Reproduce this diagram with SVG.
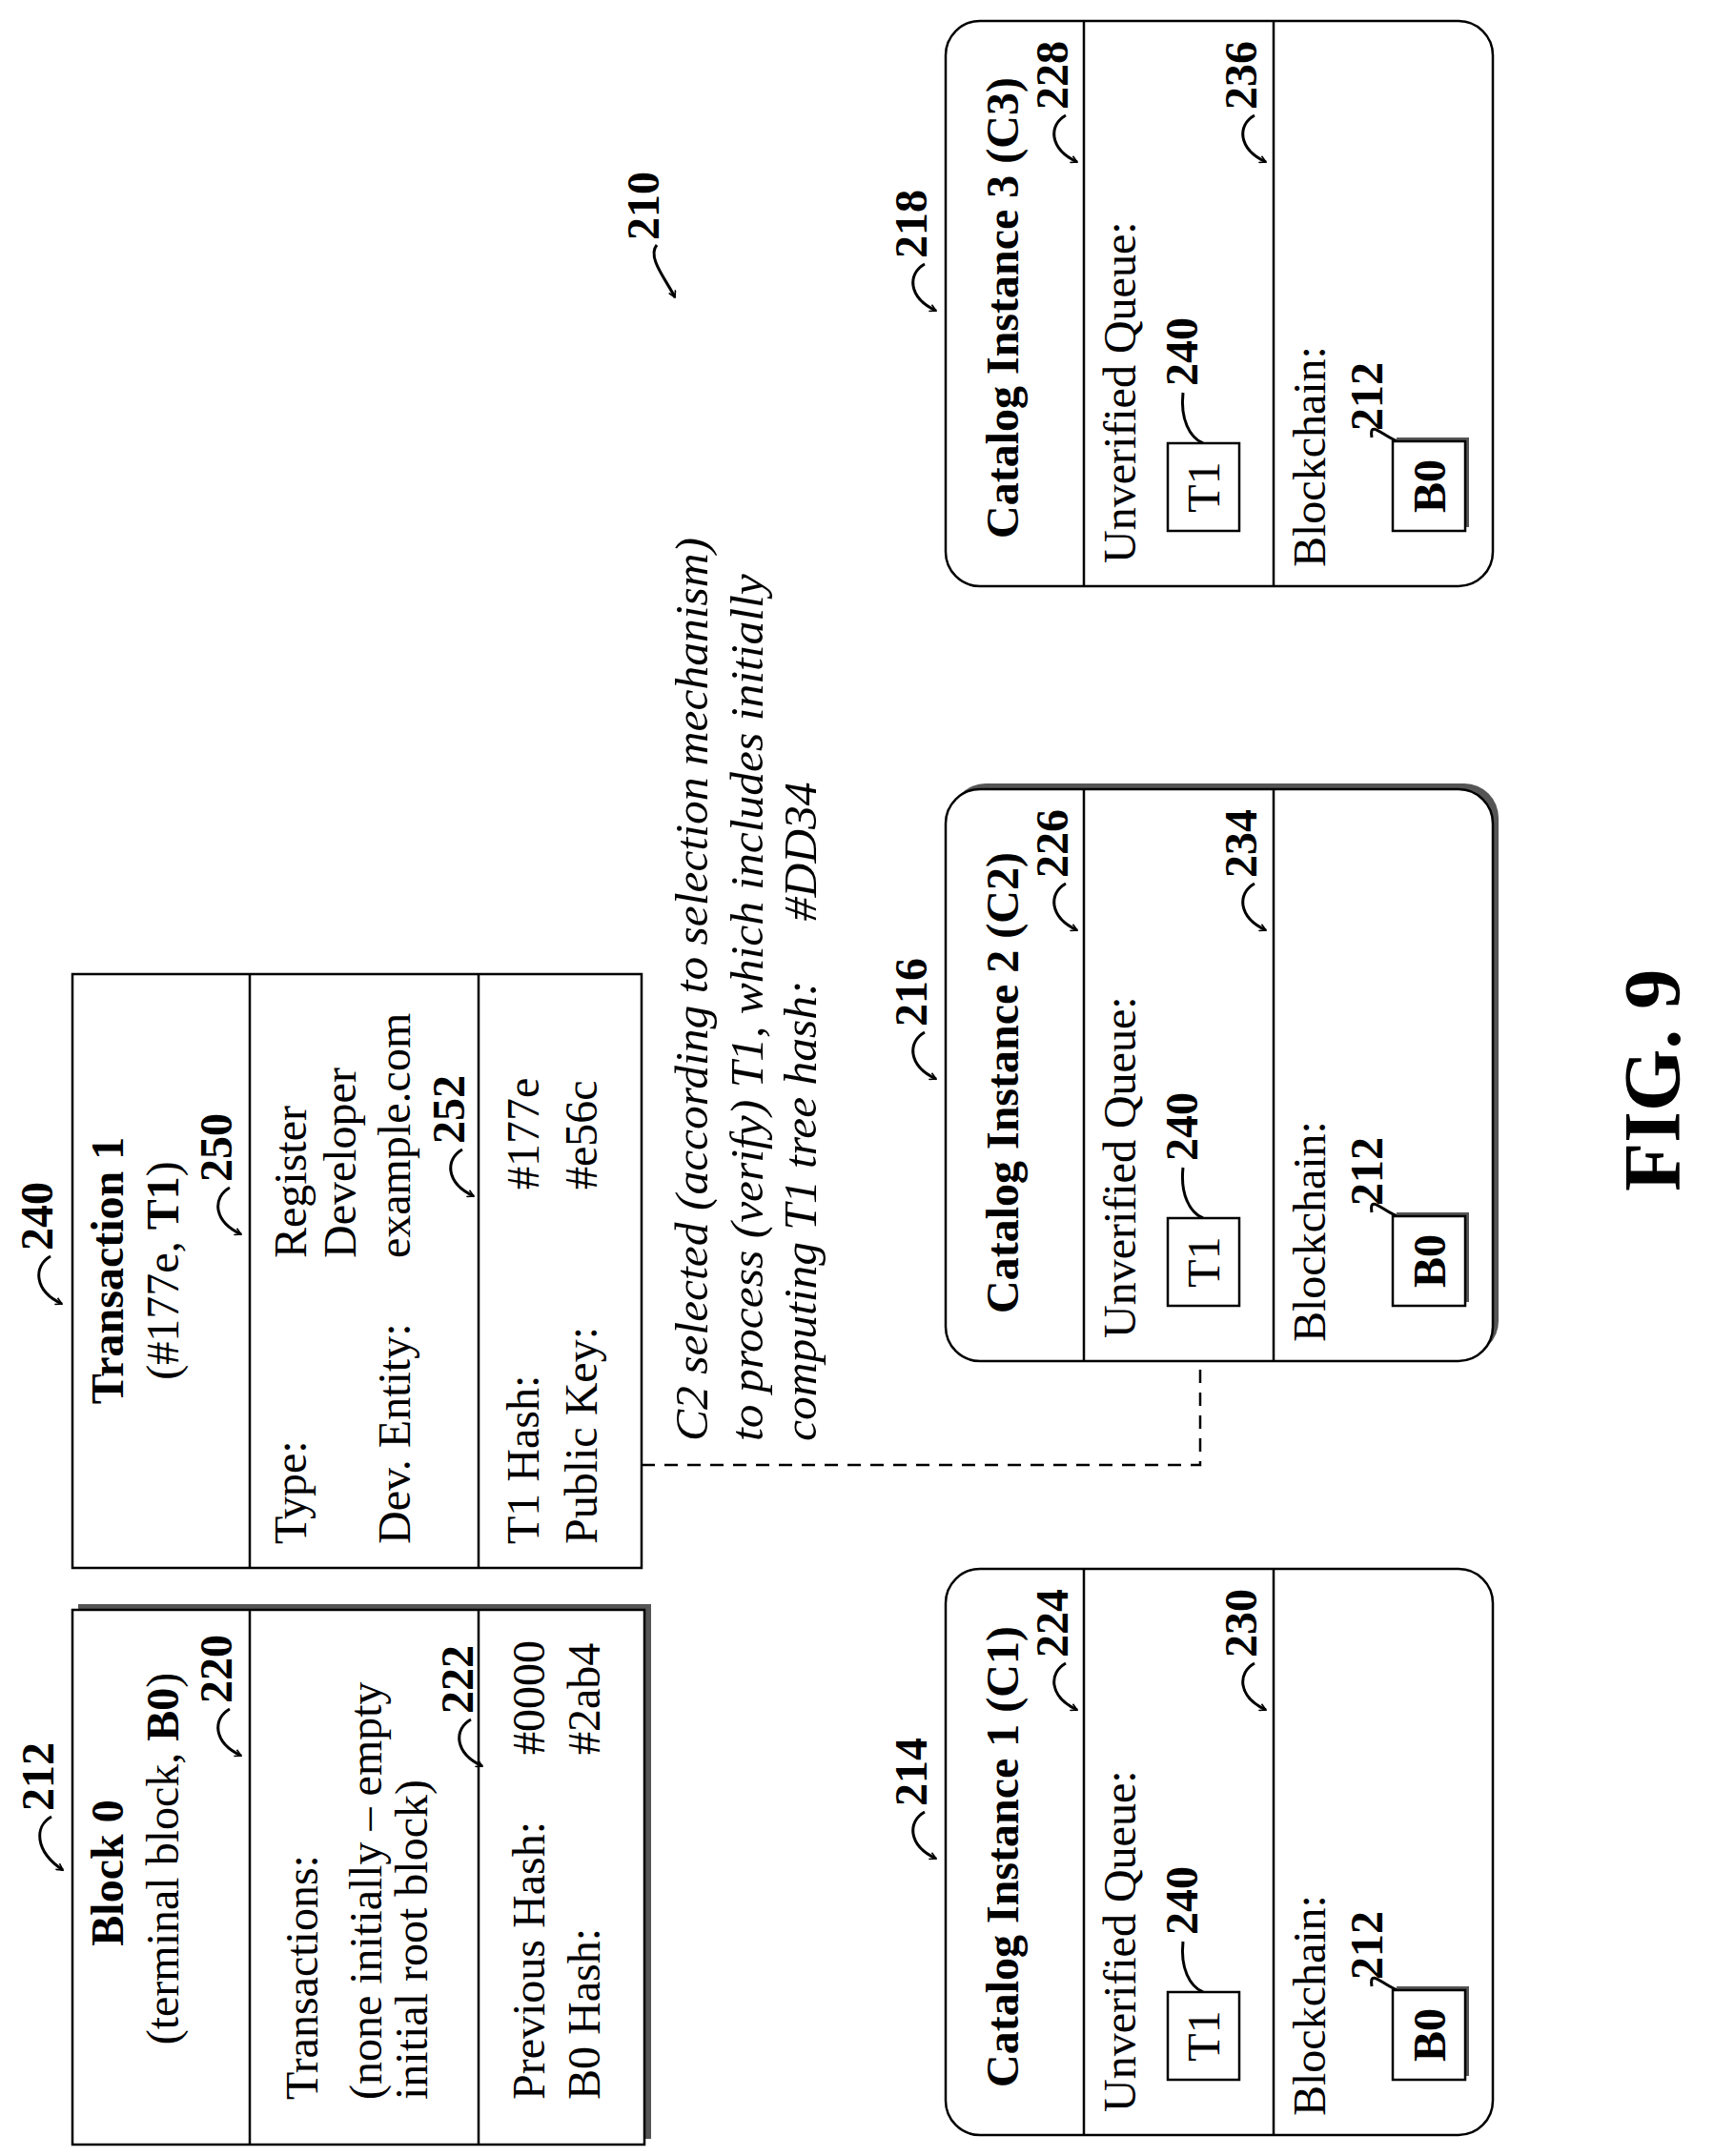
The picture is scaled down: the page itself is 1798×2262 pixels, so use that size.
<svg xmlns="http://www.w3.org/2000/svg" width="1798" height="2262" viewBox="0 0 1798 2262">
<style>
text{font-family:"Liberation Serif","Times New Roman",serif;font-size:48px;fill:#000}
.b{font-weight:bold}
.i{font-style:italic;font-size:49.5px}
.m{text-anchor:middle}
.box{fill:#fff;stroke:#000;stroke-width:2.5}
.sh{fill:#555;stroke:none}
.ln{stroke:#000;stroke-width:2.5;fill:none}
.ld{stroke:#000;stroke-width:3;fill:none}
.la{stroke:#000;stroke-width:3;fill:none;marker-end:url(#ah)}
.dash{stroke:#000;stroke-width:2.5;fill:none;stroke-dasharray:14 10}
</style>
<defs>
<marker id="ah" viewBox="0 0 12 12" refX="10" refY="6" markerWidth="9" markerHeight="9" orient="auto" markerUnits="userSpaceOnUse">
<path d="M1,1 L10,6 L1,11" fill="none" stroke="#000" stroke-width="2.2"/>
</marker>
</defs>
<rect width="1798" height="2262" fill="#fff"/>

<g id="connectors">
<path class="dash" d="M673,1537 H1259 V1372"/>
</g>

<g id="label210">
<text class="b" transform="translate(691,252) rotate(-90)">210</text>
<path class="la" d="M689,257 C678,270 700,295 708,312"/>
</g>

<g id="block0">
<text class="b" transform="translate(56,1900) rotate(-90)">212</text>
<path class="la" d="M54,1906 C36,1916 36,1942 66,1962"/>
<rect class="sh" x="82" y="1683" width="601" height="561"/>
<rect class="box" x="76" y="1689" width="600" height="561"/>
<line class="ln" x1="262" y1="1689" x2="262" y2="2250"/>
<line class="ln" x1="502" y1="1689" x2="502" y2="2250"/>
<text class="b m" transform="translate(129,1965) rotate(-90)">Block 0</text>
<text class="m" transform="translate(187,1950) rotate(-90)">(terminal block, <tspan class="b">B0</tspan>)</text>
<text class="b" transform="translate(243,1787) rotate(-90)">220</text>
<path class="la" d="M241,1793 C223,1803 223,1828 253,1842"/>
<text transform="translate(333,2203) rotate(-90)">Transactions:</text>
<text transform="translate(400,2203) rotate(-90)">(none initially – empty</text>
<text transform="translate(448,2203) rotate(-90)">initial root block)</text>
<text class="b" transform="translate(496,1798) rotate(-90)">222</text>
<path class="la" d="M494,1804 C476,1814 476,1839 506,1853"/>
<text transform="translate(571,2203) rotate(-90)">Previous Hash:</text>
<text transform="translate(629,2203) rotate(-90)">B0 Hash:</text>
<text transform="translate(571,1841) rotate(-90)">#0000</text>
<text transform="translate(629,1841) rotate(-90)">#2ab4</text>
</g>

<g id="transaction1">
<text class="b" transform="translate(55,1312) rotate(-90)">240</text>
<path class="la" d="M53,1318 C35,1328 35,1354 65,1368"/>
<rect class="box" x="76" y="1022" width="597" height="623"/>
<line class="ln" x1="262" y1="1022" x2="262" y2="1645"/>
<line class="ln" x1="502" y1="1022" x2="502" y2="1645"/>
<text class="b m" transform="translate(129,1333) rotate(-90)">Transaction 1</text>
<text class="m" transform="translate(187,1333) rotate(-90)">(#177e, <tspan class="b">T1</tspan>)</text>
<text class="b" transform="translate(243,1240) rotate(-90)">250</text>
<path class="la" d="M241,1246 C223,1256 223,1281 253,1295"/>
<text transform="translate(321,1620) rotate(-90)">Type:</text>
<text transform="translate(321,1320) rotate(-90)">Register</text>
<text transform="translate(373,1320) rotate(-90)">Developer</text>
<text transform="translate(430,1620) rotate(-90)">Dev. Entity:</text>
<text transform="translate(430,1320) rotate(-90)">example.com</text>
<text class="b" transform="translate(487,1200) rotate(-90)">252</text>
<path class="la" d="M485,1206 C467,1216 467,1241 497,1255"/>
<text transform="translate(565,1620) rotate(-90)">T1 Hash:</text>
<text transform="translate(626,1620) rotate(-90)">Public Key:</text>
<text transform="translate(565,1248) rotate(-90)">#177e</text>
<text transform="translate(626,1248) rotate(-90)">#e56c</text>
</g>

<g id="note">
<text class="i" transform="translate(742,1512) rotate(-90)">C2 selected (according to selection mechanism)</text>
<text class="i" transform="translate(800,1512) rotate(-90)">to process (verify) T1, which includes initially</text>
<text class="i" transform="translate(856,1512) rotate(-90)">computing T1 tree hash: <tspan dx="50">#DD34</tspan></text>
</g>

<g id="catalog1">
<text class="b" transform="translate(972,1895) rotate(-90)">214</text>
<path class="la" d="M970,1901 C952,1911 952,1936 982,1950"/>
<rect class="box" x="992" y="1646" width="574" height="594" rx="36"/>
<line class="ln" x1="1137" y1="1646" x2="1137" y2="2240"/>
<line class="ln" x1="1336" y1="1646" x2="1336" y2="2240"/>
<text class="b" transform="translate(1068,2190) rotate(-90)">Catalog Instance 1 (C1)</text>
<text class="b" transform="translate(1120,1739) rotate(-90)">224</text>
<path class="la" d="M1118,1745 C1100,1755 1100,1780 1130,1794"/>
<text transform="translate(1191,2216) rotate(-90)">Unverified Queue:</text>
<text class="b" transform="translate(1256,2030) rotate(-90)">240</text>
<path class="ld" d="M1262,2090 C1248,2084 1238,2065 1241,2037"/>
<rect class="box" x="1225" y="2090" width="75" height="92"/>
<text class="m" transform="translate(1279,2136) rotate(-90)">T1</text>
<text class="b" transform="translate(1318,1739) rotate(-90)">230</text>
<path class="la" d="M1316,1745 C1298,1755 1298,1780 1328,1794"/>
<text transform="translate(1390,2220) rotate(-90)">Blockchain:</text>
<text class="b" transform="translate(1450,2077) rotate(-90)">212</text>
<path class="ld" d="M1466,2088 C1450,2082 1436,2065 1439,2084"/>
<rect class="sh" x="1465" y="2084" width="76" height="94"/>
<rect class="box" x="1461" y="2088" width="76" height="94"/>
<text class="b m" transform="translate(1516,2135) rotate(-90)">B0</text>
</g>

<g id="catalog2">
<text class="b" transform="translate(972,1077) rotate(-90)">216</text>
<path class="la" d="M970,1083 C952,1093 952,1118 982,1132"/>
<rect class="sh" x="998" y="822" width="574" height="600" rx="36"/>
<rect class="box" x="992" y="828" width="574" height="600" rx="36"/>
<line class="ln" x1="1137" y1="828" x2="1137" y2="1428"/>
<line class="ln" x1="1336" y1="828" x2="1336" y2="1428"/>
<text class="b" transform="translate(1068,1378) rotate(-90)">Catalog Instance 2 (C2)</text>
<text class="b" transform="translate(1120,921) rotate(-90)">226</text>
<path class="la" d="M1118,927 C1100,937 1100,962 1130,976"/>
<text transform="translate(1191,1404) rotate(-90)">Unverified Queue:</text>
<text class="b" transform="translate(1256,1218) rotate(-90)">240</text>
<path class="ld" d="M1262,1278 C1248,1272 1238,1253 1241,1225"/>
<rect class="box" x="1225" y="1278" width="75" height="92"/>
<text class="m" transform="translate(1279,1324) rotate(-90)">T1</text>
<text class="b" transform="translate(1318,921) rotate(-90)">234</text>
<path class="la" d="M1316,927 C1298,937 1298,962 1328,976"/>
<text transform="translate(1390,1408) rotate(-90)">Blockchain:</text>
<text class="b" transform="translate(1450,1265) rotate(-90)">212</text>
<path class="ld" d="M1466,1276 C1450,1270 1436,1253 1439,1272"/>
<rect class="sh" x="1465" y="1272" width="76" height="94"/>
<rect class="box" x="1461" y="1276" width="76" height="94"/>
<text class="b m" transform="translate(1516,1323) rotate(-90)">B0</text>
</g>

<g id="catalog3">
<text class="b" transform="translate(972,271) rotate(-90)">218</text>
<path class="la" d="M970,277 C952,287 952,312 982,326"/>
<rect class="box" x="992" y="22" width="574" height="593" rx="36"/>
<line class="ln" x1="1137" y1="22" x2="1137" y2="615"/>
<line class="ln" x1="1336" y1="22" x2="1336" y2="615"/>
<text class="b" transform="translate(1068,565) rotate(-90)">Catalog Instance 3 (C3)</text>
<text class="b" transform="translate(1120,115) rotate(-90)">228</text>
<path class="la" d="M1118,121 C1100,131 1100,156 1130,170"/>
<text transform="translate(1191,591) rotate(-90)">Unverified Queue:</text>
<text class="b" transform="translate(1256,405) rotate(-90)">240</text>
<path class="ld" d="M1262,465 C1248,459 1238,440 1241,412"/>
<rect class="box" x="1225" y="465" width="75" height="92"/>
<text class="m" transform="translate(1279,511) rotate(-90)">T1</text>
<text class="b" transform="translate(1318,115) rotate(-90)">236</text>
<path class="la" d="M1316,121 C1298,131 1298,156 1328,170"/>
<text transform="translate(1390,595) rotate(-90)">Blockchain:</text>
<text class="b" transform="translate(1450,452) rotate(-90)">212</text>
<path class="ld" d="M1466,463 C1450,457 1436,440 1439,459"/>
<rect class="sh" x="1465" y="459" width="76" height="94"/>
<rect class="box" x="1461" y="463" width="76" height="94"/>
<text class="b m" transform="translate(1516,510) rotate(-90)">B0</text>
</g>

<g id="figlabel">
<text class="b" style="font-size:84px" transform="translate(1762,1250) rotate(-90)">FIG. 9</text>
</g>
</svg>
